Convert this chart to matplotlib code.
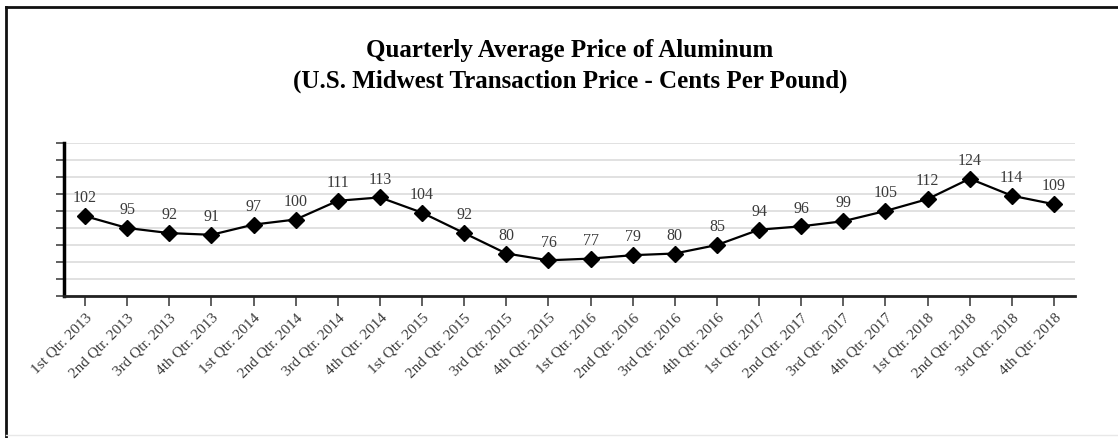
import matplotlib.pyplot as plt
import numpy as np
from matplotlib.lines import Line2D

quarters = [
    "1st Qtr. 2013", "2nd Qtr. 2013", "3rd Qtr. 2013", "4th Qtr. 2013",
    "1st Qtr. 2014", "2nd Qtr. 2014", "3rd Qtr. 2014", "4th Qtr. 2014",
    "1st Qtr. 2015", "2nd Qtr. 2015", "3rd Qtr. 2015", "4th Qtr. 2015",
    "1st Qtr. 2016", "2nd Qtr. 2016", "3rd Qtr. 2016", "4th Qtr. 2016",
    "1st Qtr. 2017", "2nd Qtr. 2017", "3rd Qtr. 2017", "4th Qtr. 2017",
    "1st Qtr. 2018", "2nd Qtr. 2018", "3rd Qtr. 2018", "4th Qtr. 2018",
]
prices = [102, 95, 92, 91, 97, 100, 111, 113, 104, 92, 80, 76,
          77, 79, 80, 85, 94, 96, 99, 105, 112, 124, 114, 109]

plt.rcParams["font.family"] = ["Liberation Serif", "DejaVu Serif"]

fig = plt.figure(figsize=(11.18, 4.38), dpi=100)
W, H = 1118, 438

# outer frame
fig.add_artist(Line2D([6 / W, 6 / W], [0, 1 - 7 / H], transform=fig.transFigure,
                      color="#111111", lw=2))
fig.add_artist(Line2D([6 / W, 1], [1 - 7 / H, 1 - 7 / H], transform=fig.transFigure,
                      color="#111111", lw=2))
fig.add_artist(Line2D([6 / W, 1], [3 / H, 3 / H], transform=fig.transFigure,
                      color="#e8e8e8", lw=1))

ax = fig.add_axes([64 / W, 142 / H, 1011 / W, 153 / H])

x = np.arange(len(prices))
ax.plot(x, prices, color="black", lw=1.6, marker="D", markersize=8.5, zorder=3)

for xi, v in zip(x, prices):
    ax.annotate(str(v), (xi, v), xytext=(0, 7), textcoords="offset points",
                ha="center", va="bottom", fontsize=11.5, color="#3a3a3a")

ax.set_xlim(-0.5, len(prices) - 0.5)
ax.set_ylim(55, 145)
ax.set_yticks(np.arange(55, 146, 10))
ax.set_yticklabels([])
ax.yaxis.grid(True, color="#dedede", lw=1.3)
ax.set_axisbelow(True)

ax.set_xticks(x)
ax.set_xticklabels(quarters, rotation=45, ha="right", rotation_mode="anchor",
                   fontsize=11, color="#3a3a3a")

ax.spines["top"].set_visible(False)
ax.spines["right"].set_visible(False)
ax.spines["left"].set_linewidth(2.5)
ax.spines["left"].set_color("black")
ax.spines["bottom"].set_linewidth(2)
ax.spines["bottom"].set_color("#222222")
ax.tick_params(axis="y", length=6, width=1.2, color="#444444")
ax.tick_params(axis="x", length=7, width=1.2, color="#444444", pad=4)

fig.text(570 / W, 1 - 51 / H, "Quarterly Average Price of Aluminum",
         ha="center", va="center", fontsize=18, fontweight="bold")
fig.text(570 / W, 1 - 81 / H, "(U.S. Midwest Transaction Price - Cents Per Pound)",
         ha="center", va="center", fontsize=18, fontweight="bold")

fig.savefig("out.png", dpi=100)
